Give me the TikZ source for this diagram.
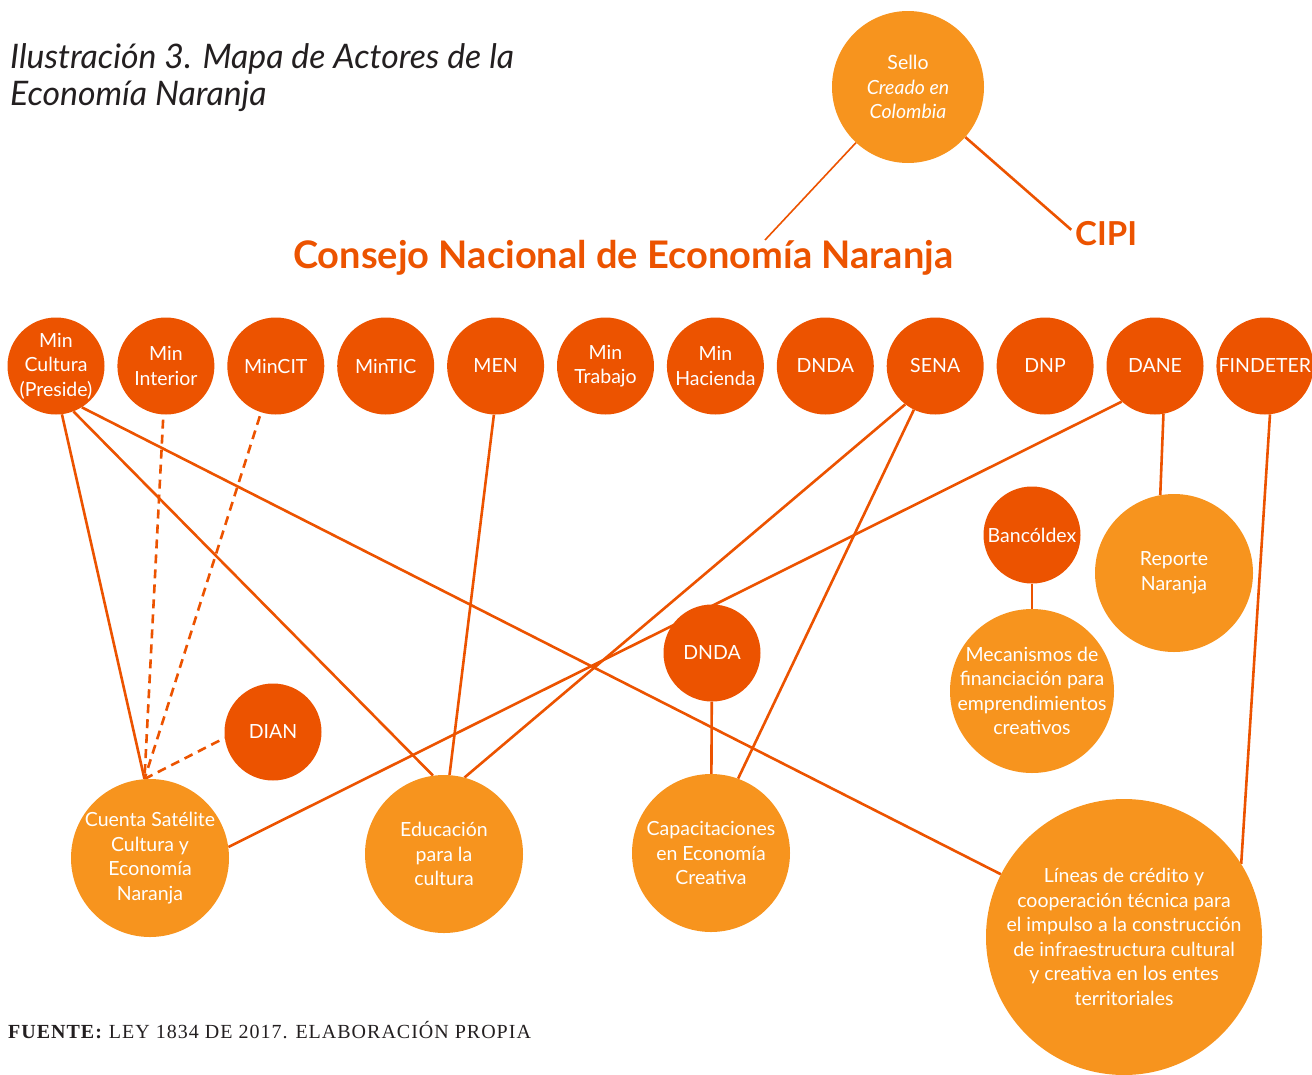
\documentclass[tikz,border=0pt]{standalone}
\usepackage{fontspec}
\setmainfont{Lato}
\newfontfamily\srcfont[LetterSpace=5]{Liberation Serif}
\usetikzlibrary{positioning,backgrounds}
\definecolor{naranjaosc}{RGB}{236,83,0}
\definecolor{naranjacla}{RGB}{247,148,30}
\definecolor{tinta}{RGB}{35,31,32}

\begin{document}
\begin{tikzpicture}[
  x=1pt, y=-1pt,
  every node/.style={font=\fontsize{19.5}{24.5}\selectfont},
  darkc/.style={circle, fill=naranjaosc, text=white, align=center, inner sep=-8pt, minimum size=97pt},
  lightc/.style={circle, fill=naranjacla, text=white, align=center, inner sep=-8pt, minimum size=158pt},
  ttl/.style={text=naranjaosc, font=\fontsize{33}{36}\selectfont\bfseries, inner sep=0pt},
  link/.style={draw=naranjaosc, line width=2.6pt},
  dlink/.style={link, dash pattern=on 9pt off 6pt}
]
\useasboundingbox (0,0) rectangle (1312,1074);

% heading and source
\node[anchor=north west, inner sep=0pt, align=left, text=tinta, font=\fontsize{33.8}{37}\selectfont\itshape] (heading) at (10,43)
  {Ilustración 3. Mapa de Actores de la\\Economía Naranja};
\node[anchor=base west, inner sep=0pt, text=tinta, font=\srcfont\fontsize{20}{22}\selectfont] (fuente) at (8,1038)
  {\textbf{FUENTE:} LEY 1834 DE 2017. ELABORACIÓN PROPIA};

% council, seal and CIPI
\node[ttl, anchor=base west, font=\fontsize{38}{40}\selectfont\bfseries] (consejo) at (293,268) {Consejo Nacional de Economía Naranja};
\node[ttl, anchor=base west] (cipi) at (1075,245) {CIPI};
\node[lightc, minimum size=152pt] (sello) at (908,87) {Sello\\\textit{Creado en}\\\textit{Colombia}};
\coordinate (cnjtop) at (765,240);

% members of the council
\node[darkc] (mincultura) at (56,366) {Min\\Cultura\\(Preside)};
\node[darkc, right=12.5pt of mincultura] (mininterior) {Min\\Interior};
\node[darkc, right=12.5pt of mininterior] (mincit) {MinCIT};
\node[darkc, right=12.5pt of mincit] (mintic) {MinTIC};
\node[darkc, right=12.5pt of mintic] (men) {MEN};
\node[darkc, right=12.5pt of men] (mintrabajo) {Min\\Trabajo};
\node[darkc, right=12.5pt of mintrabajo] (minhacienda) {Min\\Hacienda};
\node[darkc, right=12.5pt of minhacienda] (dnda) {DNDA};
\node[darkc, right=12.5pt of dnda] (sena) {SENA};
\node[darkc, right=12.5pt of sena] (dnp) {DNP};
\node[darkc, right=12.5pt of dnp] (dane) {DANE};
\node[darkc, right=12.5pt of dane] (findeter) {FINDETER};

% instruments
\node[darkc] (dian) at (273,732) {DIAN};
\node[lightc] (cuenta) at (150,858) {Cuenta Satélite\\Cultura y\\Economía\\Naranja};
\node[lightc] (educacion) at (444,854) {Educación\\para la\\cultura};
\node[darkc] (dndab) at (712,653) {DNDA};
\node[lightc] (capacitacion) at (711,853) {Capacitaciones\\en Economía\\Creativa};
\node[darkc] (bancoldex) at (1032,535) {Bancóldex};
\node[lightc, minimum size=164pt] (mecanismos) at (1032,691) {Mecanismos de\\financiación para\\emprendimientos\\creativos};
\node[lightc] (reporte) at (1174,573) {Reporte\\Naranja};
\node[lightc, minimum size=276pt] (lineas) at (1124,937) {Líneas de crédito y\\cooperación técnica para\\el impulso a la construcción\\de infraestructura cultural\\y creativa en los entes\\territoriales};

\begin{scope}[on background layer]
\draw[link, line width=1.6pt] (sello) -- (cnjtop);
\draw[link, shorten >=5pt] (sello) -- (cipi.west);
\draw[link] (mincultura.-83) -- (cuenta.94);
\draw[link] (mincultura.-69) -- (educacion.98);
\draw[link] (mincultura.-58) -- (lineas.153);
\draw[dlink, shorten <=5pt] (mininterior) -- (cuenta.94);
\draw[dlink, shorten <=4pt] (mincit) -- (cuenta.94);
\draw[dlink] (cuenta.94) -- (dian.187);
\draw[link] (men.-92) -- (educacion.86);
\draw[link] (sena.232) -- (educacion.75);
\draw[link] (sena.244) -- (capacitacion.70);
\draw[link] (dane.227) -- (cuenta.8);
\draw[link] (dane.-80) -- (reporte.100);
\draw[link] (findeter.-84) -- (lineas.32);
\draw[link] (dndab) -- (capacitacion);
\draw[link] (bancoldex) -- (mecanismos);
\end{scope}
\end{tikzpicture}
\end{document}
